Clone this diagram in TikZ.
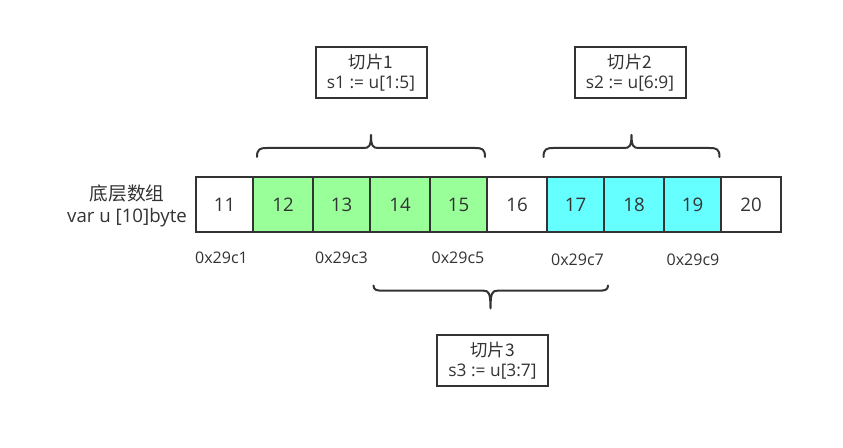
\documentclass[tikz,border=0pt]{standalone}
\usepackage{fontspec}
\setmainfont{Open Sans}
\newfontfamily\cjk{Noto Sans CJK SC}
\definecolor{ink}{HTML}{333333}
\definecolor{sgreen}{HTML}{99FF99}
\definecolor{scyan}{HTML}{66FFFF}
\tikzset{
  cell/.style={draw=ink, line width=1.5pt, text=ink, inner sep=0pt, minimum height=55*0.75pt, font=\fontsize{14}{16}\selectfont},
  slicebox/.style={draw=ink, line width=1.5pt, text=ink, fill=white, inner sep=0pt, minimum width=111*0.75pt, minimum height=51*0.75pt, align=center, font=\fontsize{13}{15.5}\selectfont},
  addr/.style={text=ink, inner sep=0pt, font=\fontsize{12}{14}\selectfont},
  bracestyle/.style={draw=ink, line width=1.5pt, line cap=round, line join=round}
}
\newcommand{\UpBrace}[4]{% L, T, R, name
  \draw[bracestyle] (#1,157) .. controls (#1,149) and (#1+3,148) .. (#1+10,148) -- (#2-7,148) .. controls (#2-2,148) and (#2,146) .. (#2,135) coordinate (#4)
     .. controls (#2,146) and (#2+2,148) .. (#2+7,148) -- (#3-10,148) .. controls (#3-3,148) and (#3,149) .. (#3,157);}
\newcommand{\DownBrace}[4]{% L, T, R, name
  \draw[bracestyle] (#1,285.5) .. controls (#1,290) and (#1+3,290.7) .. (#1+10,290.7) -- (#2-7,290.7) .. controls (#2-2,290.7) and (#2,292.5) .. (#2,308.3) coordinate (#4)
     .. controls (#2,292.5) and (#2+2,290.7) .. (#2+7,290.7) -- (#3-10,290.7) .. controls (#3-3,290.7) and (#3,290) .. (#3,285.5);}
\begin{document}
\begin{tikzpicture}[x=0.75pt, y=-0.75pt]
\useasboundingbox[fill=white] (0,0) rectangle (843,448);
% cells
\node[cell, minimum width=57*0.75pt] (c11) at (224.5,204.5) {11};
\node[cell, fill=sgreen, minimum width=60*0.75pt] (c12) at (283,204.5) {12};
\node[cell, fill=sgreen, minimum width=57*0.75pt] (c13) at (341.5,204.5) {13};
\node[cell, fill=sgreen, minimum width=60*0.75pt] (c14) at (400,204.5) {14};
\node[cell, fill=sgreen, minimum width=57*0.75pt] (c15) at (458.5,204.5) {15};
\node[cell, minimum width=60*0.75pt] (c16) at (517,204.5) {16};
\node[cell, fill=scyan, minimum width=57*0.75pt] (c17) at (575.5,204.5) {17};
\node[cell, fill=scyan, minimum width=60*0.75pt] (c18) at (634,204.5) {18};
\node[cell, fill=scyan, minimum width=57*0.75pt] (c19) at (692.5,204.5) {19};
\node[cell, minimum width=60*0.75pt] (c20) at (751,204.5) {20};
% left label
\node[text=ink, inner sep=0pt, align=center, font=\fontsize{14}{16.5}\selectfont] (lbl) at (127,206) {{\cjk 底层数组}\\var u [10]byte};
% addresses
\node[addr] (a1) at (221.5,258) {0x29c1};
\node[addr] (a3) at (341.5,258) {0x29c3};
\node[addr] (a5) at (458,258) {0x29c5};
\node[addr] (a7) at (577.5,260) {0x29c7};
\node[addr] (a9) at (693,260) {0x29c9};
% slice boxes
\node[slicebox] (s1) at (371,72.7) {{\cjk 切片1}\\s1 := u[1:5]};
\node[slicebox] (s2) at (630,72.7) {{\cjk 切片2}\\s2 := u[6:9]};
\node[slicebox] (s3) at (492.5,360.5) {{\cjk 切片3}\\s3 := u[3:7]};
% braces
\UpBrace{257}{371}{485}{b1}
\UpBrace{543.5}{631.5}{719.5}{b2}
\DownBrace{373.5}{490.5}{608}{b3}
\end{tikzpicture}
\end{document}
